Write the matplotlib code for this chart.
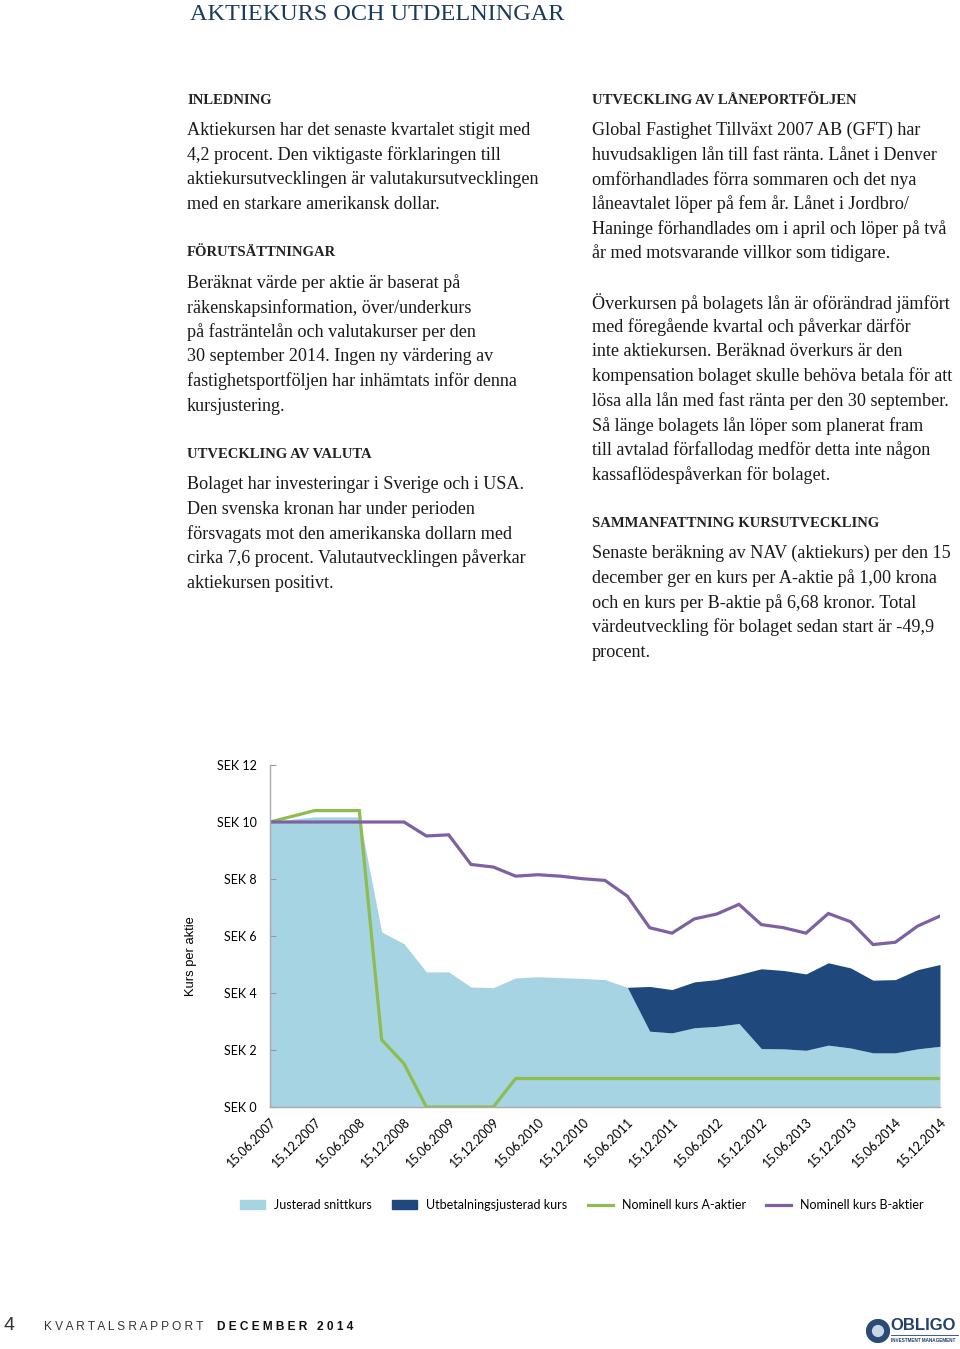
import numpy as np
import matplotlib.pyplot as plt
from matplotlib.patches import Patch, Circle
from matplotlib.lines import Line2D

# quarterly points, 15.06.2007 .. 15.12.2014
quarters = np.arange(31)
tick_labels = ["15.06.2007", "15.12.2007", "15.06.2008", "15.12.2008", "15.06.2009",
               "15.12.2009", "15.06.2010", "15.12.2010", "15.06.2011", "15.12.2011",
               "15.06.2012", "15.12.2012", "15.06.2013", "15.12.2013", "15.06.2014",
               "15.12.2014"]

justerad = [9.98, 10.1, 10.18, 10.18, 10.18, 6.14, 5.73, 4.74, 4.74, 4.21,
            4.19, 4.53, 4.57, 4.54, 4.51, 4.47, 4.20, 2.66, 2.60, 2.78,
            2.83, 2.93, 2.05, 2.04, 1.99, 2.17, 2.07, 1.90, 1.90, 2.04, 2.13]
utbet = [np.nan] * 16 + [4.20, 4.23, 4.12, 4.39, 4.47, 4.65, 4.85, 4.79, 4.67,
                         5.06, 4.88, 4.45, 4.47, 4.82, 5.00]
kurs_a = [10.0, 10.2, 10.4, 10.4, 10.4, 2.36, 1.52, 0, 0, 0,
          0, 1.0, 1.0, 1.0, 1.0, 1.0, 1.0, 1.0, 1.0, 1.0,
          1.0, 1.0, 1.0, 1.0, 1.0, 1.0, 1.0, 1.0, 1.0, 1.0, 1.0]
kurs_b = [10.0, 10.0, 10.0, 10.0, 10.0, 10.0, 10.0, 9.51, 9.55, 8.51,
          8.42, 8.10, 8.15, 8.10, 8.01, 7.95, 7.40, 6.29, 6.10, 6.60,
          6.77, 7.11, 6.40, 6.29, 6.10, 6.79, 6.50, 5.70, 5.78, 6.35, 6.70]

left_col = [
    ("h", "INLEDNING"),
    ("t", "Aktiekursen har det senaste kvartalet stigit med"),
    ("t", "4,2 procent. Den viktigaste förklaringen till"),
    ("t", "aktiekursutvecklingen är valutakursutvecklingen"),
    ("t", "med en starkare amerikansk dollar."),
    ("s", ""),
    ("h", "FÖRUTSÄTTNINGAR"),
    ("t", "Beräknat värde per aktie är baserat på"),
    ("t", "räkenskapsinformation, över/underkurs"),
    ("t", "på fasträntelån och valutakurser per den"),
    ("t", "30 september 2014. Ingen ny värdering av"),
    ("t", "fastighetsportföljen har inhämtats inför denna"),
    ("t", "kursjustering."),
    ("s", ""),
    ("h", "UTVECKLING AV VALUTA"),
    ("t", "Bolaget har investeringar i Sverige och i USA."),
    ("t", "Den svenska kronan har under perioden"),
    ("t", "försvagats mot den amerikanska dollarn med"),
    ("t", "cirka 7,6 procent. Valutautvecklingen påverkar"),
    ("t", "aktiekursen positivt."),
]
right_col = [
    ("h", "UTVECKLING AV LÅNEPORTFÖLJEN"),
    ("t", "Global Fastighet Tillväxt 2007 AB (GFT) har"),
    ("t", "huvudsakligen lån till fast ränta. Lånet i Denver"),
    ("t", "omförhandlades förra sommaren och det nya"),
    ("t", "låneavtalet löper på fem år. Lånet i Jordbro/"),
    ("t", "Haninge förhandlades om i april och löper på två"),
    ("t", "år med motsvarande villkor som tidigare."),
    ("s", ""),
    ("t", "Överkursen på bolagets lån är oförändrad jämfört"),
    ("t", "med föregående kvartal och påverkar därför"),
    ("t", "inte aktiekursen. Beräknad överkurs är den"),
    ("t", "kompensation bolaget skulle behöva betala för att"),
    ("t", "lösa alla lån med fast ränta per den 30 september."),
    ("t", "Så länge bolagets lån löper som planerat fram"),
    ("t", "till avtalad förfallodag medför detta inte någon"),
    ("t", "kassaflödespåverkan för bolaget."),
    ("s", ""),
    ("h", "SAMMANFATTNING KURSUTVECKLING"),
    ("t", "Senaste beräkning av NAV (aktiekurs) per den 15"),
    ("t", "december ger en kurs per A-aktie på 1,00 krona"),
    ("t", "och en kurs per B-aktie på 6,68 kronor. Total"),
    ("t", "värdeutveckling för bolaget sedan start är -49,9"),
    ("t", "procent."),
]

W, H = 960, 1349
fig = plt.figure(figsize=(W / 100, H / 100), dpi=100)
serif = ["Liberation Serif", "DejaVu Serif"]
sans = ["Lato", "DejaVu Sans"]
navy = "#1c3a5e"


def px(x, y):
    return x / W, 1 - y / H


fig.text(*px(190, 14), "AKTIEKURS OCH UTDELNINGAR", family=serif, fontsize=17.5,
         color=navy, va="center", ha="left")


def write_col(x, rows):
    y = 100
    for kind, s in rows:
        if kind == "s":
            y += 24.6
            continue
        if kind == "h":
            fig.text(*px(x, y), s, family=serif, fontsize=10.5, weight="bold",
                     color="#222222", va="center", ha="left")
            y += 29.5
        else:
            fig.text(*px(x, y + 1), s, family=serif, fontsize=13.1,
                     color="#1a1a1a", va="center", ha="left")
            y += 24.6


write_col(187, left_col)
write_col(592, right_col)

# chart
c_light = "#a6d4e2"
c_dark = "#1f497d"
c_green = "#8fbc4f"
c_purple = "#7d61a3"

ax = fig.add_axes([270 / W, 1 - 1107 / H, 670 / W, 342 / H])
ax.fill_between(quarters, 0, justerad, color=c_light, lw=0)
ax.fill_between(quarters, justerad, utbet, color=c_dark, lw=0)
ax.plot(quarters, kurs_a, color=c_green, lw=2.3, solid_joinstyle="miter")
ax.plot(quarters, kurs_b, color=c_purple, lw=2.3, solid_joinstyle="miter")

ax.set_xlim(0, 30)
ax.set_ylim(0, 12)
ax.set_yticks(range(0, 13, 2))
ax.set_yticklabels(["SEK %d" % v for v in range(0, 13, 2)], family=sans, fontsize=9)
ax.set_xticks(quarters[::2])
ax.set_xticklabels(tick_labels, rotation=45, ha="right", va="top",
                   rotation_mode="anchor", family=sans, fontsize=9)
ax.tick_params(axis="y", direction="in", length=4, color="#999999", pad=9.5)
ax.tick_params(axis="x", length=0, pad=6)
for side in ["top", "right"]:
    ax.spines[side].set_visible(False)
for side in ["left", "bottom"]:
    ax.spines[side].set_color("#aaaaaa")
    ax.spines[side].set_linewidth(1)
ax.set_ylabel("Kurs per aktie", family=["Liberation Sans", "DejaVu Sans"],
              fontsize=9.3)
ax.yaxis.set_label_coords(-73 / 670, 0.44)

handles = [Patch(color=c_light), Patch(color=c_dark),
           Line2D([], [], color=c_green, lw=2.3),
           Line2D([], [], color=c_purple, lw=2.3)]
names = ["Justerad snittkurs", "Utbetalningsjusterad kurs",
         "Nominell kurs A-aktier", "Nominell kurs B-aktier"]
fig.legend(handles, names, loc="center", bbox_to_anchor=px(582, 1205), ncol=4,
           frameon=False, prop={"family": sans, "size": 9}, handlelength=2.0,
           handleheight=0.7, columnspacing=1.6, handletextpad=0.75)

# footer
fig.text(*px(4, 1326), "4", family=["Liberation Sans"], fontsize=14,
         color="#333333", va="center")
fig.text(*px(44, 1327), " ".join("KVARTALSRAPPORT"), family=["Liberation Sans"],
         fontsize=8.6, color="#333333", va="center")
fig.text(*px(217, 1327), " ".join("DECEMBER 2014"), family=["Liberation Sans"],
         fontsize=8.6, weight="bold", color="#111111", va="center")
logo = fig.add_axes([866 / W, 1 - 1343 / H, 24 / W, 24 / H])
logo.set_axis_off()
logo.set_xlim(-1, 1)
logo.set_ylim(-1, 1)
logo.add_patch(Circle((0, 0), 0.95, color="#2b4a78"))
logo.add_patch(Circle((0, 0), 0.45, color="#c9d6e6"))
fig.text(*px(890, 1326), "OBLIGO", family=["Liberation Sans"], fontsize=12,
         weight="bold", color="#24406c", va="center")
fig.text(*px(891, 1340), "INVESTMENT MANAGEMENT", family=["Liberation Sans"],
         fontsize=3.3, weight="bold", color="#24406c", va="center")
fig.add_artist(Line2D([891 / W, 958 / W], [1 - 1335 / H] * 2, color="#24406c", lw=0.6))

fig.savefig("out.png", dpi=100)
